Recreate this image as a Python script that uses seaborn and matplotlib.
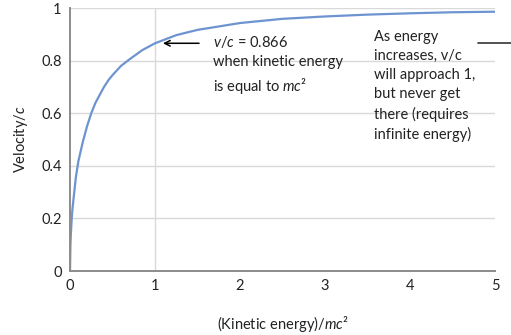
import matplotlib
matplotlib.use("Agg")
import matplotlib.pyplot as plt
from matplotlib.ticker import MultipleLocator
import numpy as np
import pandas as pd
import seaborn as sns

# values
kinetic = [0, 0.005, 0.01, 0.02, 0.03, 0.05, 0.07, 0.1, 0.15, 0.2, 0.25, 0.3,
           0.35, 0.4, 0.45, 0.5, 0.6, 0.7, 0.85, 1.0, 1.25, 1.5, 2.0, 2.5,
           3.0, 3.5, 4.0, 4.5, 5.0]
velocity = [0, 0.10, 0.14, 0.20, 0.24, 0.30, 0.36, 0.42, 0.49, 0.55, 0.60, 0.64,
            0.67, 0.70, 0.725, 0.745, 0.78, 0.805, 0.84, 0.866, 0.897, 0.917,
            0.943, 0.959, 0.968, 0.975, 0.980, 0.984, 0.986]
xticks = [0, 1, 2, 3, 4, 5]
yticks = [0, 0.2, 0.4, 0.6, 0.8, 1]
ytick_labels = ["0", "0.2", "0.4", "0.6", "0.8", "1"]

df = pd.DataFrame({"K": kinetic, "v": velocity})

sns.set_style("white")
plt.rcParams['font.family'] = ['Lato', 'DejaVu Sans']
plt.rcParams['mathtext.fontset'] = 'custom'
plt.rcParams['mathtext.rm'] = 'Lato'
plt.rcParams['mathtext.it'] = 'Lato:italic'

grid_col = '#d9d9d9'
axis_col = '#8c8c8c'

fig = plt.figure(figsize=(5.11, 3.35), dpi=100)
ax = fig.add_axes([0.137, 0.191, 0.832, 0.785])

sns.lineplot(data=df, x="K", y="v", ax=ax, color='#6E94D0', linewidth=1.6)

ax.set_xlim(0, 5)
ax.set_ylim(0, 1)
ax.set_xticks(xticks)
ax.set_yticks(yticks)
ax.set_yticklabels(ytick_labels)
ax.xaxis.set_minor_locator(MultipleLocator(0.2))
ax.yaxis.set_minor_locator(MultipleLocator(0.05))
ax.tick_params(axis='both', which='major', length=0, labelsize=10.5, pad=6, colors='#222222')
ax.tick_params(axis='both', which='minor', direction='in', length=2.5, width=0.8, color=axis_col)

ax.yaxis.grid(True, color=grid_col, linewidth=1)
ax.xaxis.grid(False)
ax.axvline(1, color=grid_col, linewidth=1, zorder=0)
ax.set_axisbelow(True)

for s in ['top', 'right']:
    ax.spines[s].set_visible(False)
for s in ['left', 'bottom']:
    ax.spines[s].set_color(axis_col)
    ax.spines[s].set_linewidth(1.4)

ax.set_xlabel("(Kinetic energy)/$mc$²", fontsize=10.5, labelpad=15, color='#222222')
ax.set_ylabel("Velocity/$c$", fontsize=10.5, labelpad=8, color='#222222')

# annotations
ax.annotate("", xy=(1.06, 0.866), xytext=(1.55, 0.866),
            arrowprops=dict(arrowstyle='->', color='black', lw=1.1))
ax.text(1.68, 0.90, "$v/c$ = 0.866\nwhen kinetic energy\nis equal to $mc$²",
        fontsize=10.5, va='top', ha='left', linespacing=1.45, color='#222222')
ax.text(3.58, 0.915, "As energy\nincreases, v/c\nwill approach 1,\nbut never get\nthere (requires\ninfinite energy)",
        fontsize=10.5, va='top', ha='left', linespacing=1.45, color='#222222')
ax.plot([4.8, 5.2], [0.866, 0.866], color='#444444', lw=1.3, clip_on=False)

fig.savefig("out.png", dpi=100)
